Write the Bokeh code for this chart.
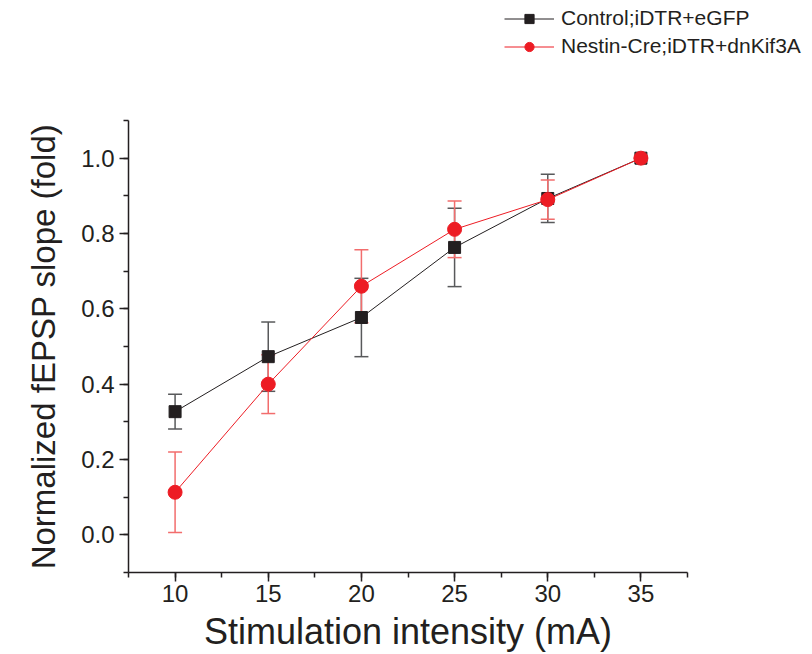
from bokeh.plotting import figure
from bokeh.layouts import column
from bokeh.models import (ColumnDataSource, Whisker, TeeHead, Legend, LegendItem,
                          SingleIntervalTicker, PrintfTickFormatter, Range1d)
from bokeh.embed import file_html
from bokeh.resources import INLINE

intensity = [10, 15, 20, 25, 30, 35]
control_mean = [0.327, 0.473, 0.577, 0.763, 0.893, 1.0]
control_err = [0.046, 0.092, 0.104, 0.104, 0.064, 0.0]
nestin_mean = [0.113, 0.400, 0.660, 0.811, 0.890, 1.0]
nestin_err = [0.107, 0.078, 0.097, 0.075, 0.052, 0.0]

control_label = "Control;iDTR+eGFP"
nestin_label = "Nestin-Cre;iDTR+dnKif3A"

FONT = "Liberation Sans"
BLACK = "#231f20"
RED = "#ed1c24"
W = 806

def src(mean, err):
    return ColumnDataSource(dict(
        x=intensity, y=mean,
        upper=[m + e for m, e in zip(mean, err)],
        lower=[m - e for m, e in zip(mean, err)],
    ))

cs = src(control_mean, control_err)
ns = src(nestin_mean, nestin_err)

# ---- legend strip (above the plot) ----
lf = figure(width=W, height=70, output_backend="svg", toolbar_location=None,
            x_axis_type=None, y_axis_type=None, x_range=Range1d(100, 101), y_range=Range1d(100, 101))
lf.min_border = 0
lf.frame_align = False
lf.outline_line_color = None
lf.grid.visible = False
lcl = lf.line("x", "y", source=cs, line_color=BLACK, line_width=1)
lcm = lf.scatter("x", "y", source=cs, marker="square", size=12, fill_color=BLACK, line_color=BLACK)
lnl = lf.line("x", "y", source=ns, line_color=RED, line_width=1)
lnm = lf.scatter("x", "y", source=ns, marker="circle", size=14, fill_color=RED, line_color=RED)
legend = Legend(items=[LegendItem(label=control_label, renderers=[lcl, lcm]),
                       LegendItem(label=nestin_label, renderers=[lnl, lnm])],
                location=(504, 12), border_line_color=None, background_fill_alpha=0,
                label_text_font=FONT, label_text_font_size="21px", label_text_color=BLACK,
                glyph_width=50, glyph_height=23, label_standoff=7, spacing=4,
                padding=2, margin=0)
lf.add_layout(legend, "center")

# ---- main plot ----
p = figure(width=W, height=584, output_backend="svg", toolbar_location=None,
           x_range=Range1d(7.5, 37.5), y_range=Range1d(-0.1, 1.1))
p.frame_align = False
p.min_border_left = 128
p.min_border_top = 50
p.min_border_right = W - 687
p.min_border_bottom = 81
p.outline_line_color = None
p.grid.visible = False

for s, col in ((cs, "#58595b"), (ns, "#f26d6d")):
    w = Whisker(source=s, base="x", upper="upper", lower="lower",
                line_color=col, line_width=1.5,
                upper_head=TeeHead(size=14, line_color=col, line_width=1.5),
                lower_head=TeeHead(size=14, line_color=col, line_width=1.5))
    p.add_layout(w)

p.line("x", "y", source=cs, line_color=BLACK, line_width=1)
p.scatter("x", "y", source=cs, marker="square", size=12, fill_color=BLACK, line_color=BLACK)
p.line("x", "y", source=ns, line_color=RED, line_width=1)
p.scatter("x", "y", source=ns, marker="circle", size=14, fill_color=RED, line_color=RED)

p.xaxis.ticker = SingleIntervalTicker(interval=5, num_minor_ticks=2)
p.yaxis.ticker = SingleIntervalTicker(interval=0.2, num_minor_ticks=2)
p.yaxis.formatter = PrintfTickFormatter(format="%.1f")

for ax in (p.xaxis, p.yaxis):
    ax.axis_line_color = BLACK
    ax.axis_line_width = 1.5
    ax.major_tick_line_color = BLACK
    ax.minor_tick_line_color = BLACK
    ax.major_tick_line_width = 1.5
    ax.minor_tick_line_width = 1.5
    ax.major_tick_out = 9
    ax.major_tick_in = 0
    ax.minor_tick_out = 5
    ax.minor_tick_in = 0
    ax.major_label_text_font = FONT
    ax.major_label_text_font_size = "24px"
    ax.major_label_text_color = BLACK
    ax.axis_label_text_font = FONT
    ax.axis_label_text_font_style = "normal"
    ax.axis_label_text_color = BLACK

p.xaxis.axis_label = "Stimulation intensity (mA)"
p.yaxis.axis_label = "Normalized fEPSP slope (fold)"
p.xaxis.axis_label_text_font_size = "36px"
p.yaxis.axis_label_text_font_size = "33px"
p.xaxis.major_label_standoff = 3
p.yaxis.major_label_standoff = 5
p.xaxis.axis_label_standoff = 6
p.yaxis.axis_label_standoff = 16

layout = column(lf, p, spacing=0)
open("out.html", "w").write(file_html(layout, INLINE))
